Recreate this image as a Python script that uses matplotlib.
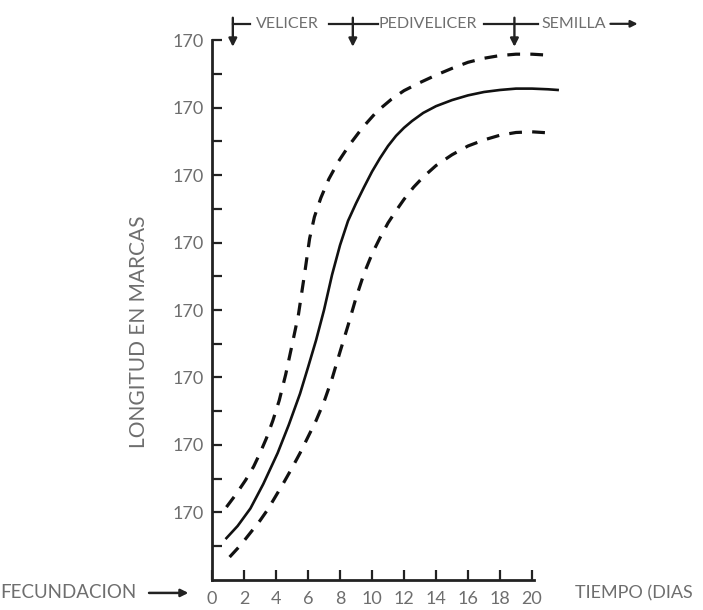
import numpy as np
import matplotlib.pyplot as plt
from matplotlib.ticker import FixedLocator

plt.rcParams['font.family'] = ['Lato', 'DejaVu Sans']

# mean growth curve (days, length units)
dias_media = [0.9, 1.6, 2.4, 3.2, 4.1, 4.8, 5.5, 6.0, 6.5, 7.0, 7.5, 8.0, 8.5, 9.0, 9.5,
              10.0, 10.5, 11.0, 11.5, 12.0, 12.5, 13.2, 14.0, 15.0, 16.0, 17.0, 18.0,
              19.0, 20.0, 21.0, 21.6]
long_media = [0.62, 0.80, 1.06, 1.42, 1.88, 2.30, 2.76, 3.15, 3.55, 4.00, 4.52, 4.96, 5.32,
              5.58, 5.82, 6.05, 6.25, 6.43, 6.58, 6.70, 6.80, 6.92, 7.02, 7.11, 7.18, 7.23,
              7.26, 7.28, 7.28, 7.27, 7.26]

# upper limit
dias_sup = [0.9, 1.5, 2.1, 2.6, 3.0, 3.4, 3.8, 4.2, 4.6, 5.0, 5.4, 5.8, 6.1, 6.4, 6.8,
            7.3, 7.9, 8.6, 9.4, 10.3, 11.2, 12.0, 13.0, 14.0, 15.0, 16.0, 17.0, 18.0,
            19.0, 20.0, 20.7]
long_sup = [1.08, 1.27, 1.48, 1.68, 1.88, 2.10, 2.36, 2.66, 3.04, 3.48, 3.93, 4.56, 5.06,
            5.38, 5.66, 5.94, 6.20, 6.45, 6.70, 6.94, 7.12, 7.25, 7.37, 7.48, 7.58, 7.67,
            7.73, 7.77, 7.79, 7.79, 7.78]

# lower limit
dias_inf = [1.1, 1.8, 2.4, 3.0, 3.5, 4.0, 4.5, 5.0, 5.5, 6.0, 6.5, 7.0, 7.5, 8.0, 8.5,
            9.0, 9.5, 10.0, 10.5, 11.0, 11.5, 12.0, 12.6, 13.2, 14.0, 15.0, 16.0, 17.0,
            18.0, 19.0, 20.0, 21.3]
long_inf = [0.34, 0.52, 0.70, 0.88, 1.05, 1.25, 1.45, 1.66, 1.88, 2.12, 2.36, 2.64, 2.98,
            3.38, 3.77, 4.18, 4.54, 4.83, 5.07, 5.29, 5.47, 5.64, 5.82, 5.97, 6.14, 6.30,
            6.43, 6.52, 6.59, 6.63, 6.64, 6.62]

x_ticks = [0, 2, 4, 6, 8, 10, 12, 14, 16, 18, 20]
y_ticks = [1, 2, 3, 4, 5, 6, 7, 8]
y_labels = ['170'] * 8

etapas = ['VELICER', 'PEDIVELICER', 'SEMILLA']
etapas_x = [4.7, 13.5, 20.6]
cambios = [1.3, 8.8, 18.9]

gris = '#6e6e6e'
negro = '#222222'

fig = plt.figure(figsize=(7.03, 6.10), dpi=100)
ax = fig.add_axes([0.3016, 0.0492, 0.5007, 0.8852])

ax.plot(dias_media, long_media, color='#111111', lw=1.9)
ax.plot(dias_sup, long_sup, color='#111111', lw=2.3, dashes=(4, 3.2))
ax.plot(dias_inf, long_inf, color='#111111', lw=2.3, dashes=(4, 3.2))

ax.set_xlim(0, 22)
ax.set_ylim(0, 8)
for s in ['top', 'right']:
    ax.spines[s].set_visible(False)
ax.spines['bottom'].set_bounds(0, 20.1)
for s in ['left', 'bottom']:
    ax.spines[s].set_linewidth(2)
    ax.spines[s].set_color(negro)

ax.xaxis.set_major_locator(FixedLocator(x_ticks))
ax.set_xticklabels([str(t) for t in x_ticks])
ax.yaxis.set_major_locator(FixedLocator(y_ticks))
ax.set_yticklabels(y_labels)
ax.yaxis.set_minor_locator(FixedLocator([v - 0.5 for v in y_ticks]))
ax.tick_params(axis='both', which='both', direction='in', length=7, width=1.6,
               color=negro, labelcolor=gris, labelsize=13)
ax.tick_params(axis='x', pad=8)
ax.tick_params(axis='y', pad=6)

ax.set_ylabel('LONGITUD EN MARCAS', color=gris, fontsize=15)
ax.yaxis.set_label_coords(-0.18, 0.46)

# stage bar along the top
y_txt = 8.24
for xc in cambios:
    ax.annotate('', xy=(xc, 7.9), xytext=(xc, 8.33), annotation_clip=False,
                arrowprops=dict(arrowstyle='-|>', color=negro, lw=1.7,
                                mutation_scale=12, shrinkA=0, shrinkB=0))
for x0, x1 in [(1.3, 2.4), (7.3, 10.4), (17.0, 20.4)]:
    ax.plot([x0, x1], [y_txt, y_txt], color=negro, lw=1.6, clip_on=False)
for nombre, xc in zip(etapas, etapas_x):
    ax.text(xc, y_txt, nombre, color=gris, fontsize=11.5,
            ha='center' if nombre != 'SEMILLA' else 'left', va='center')
ax.annotate('', xy=(26.6, y_txt), xytext=(24.9, y_txt), annotation_clip=False,
            arrowprops=dict(arrowstyle='-|>', color=negro, lw=1.6,
                            mutation_scale=10, shrinkA=0, shrinkB=0))

# bottom captions
fig.text(0.0, 0.028, 'FECUNDACION', color=gris, fontsize=13.5, va='center')
fig.text(0.818, 0.028, 'TIEMPO (DIAS', color=gris, fontsize=13, va='center')
ax.annotate('', xy=(0.268, 0.028), xytext=(0.212, 0.028), xycoords='figure fraction',
            textcoords='figure fraction',
            arrowprops=dict(arrowstyle='-|>', color=negro, lw=1.8,
                            mutation_scale=11, shrinkA=0, shrinkB=0))

fig.savefig('out.png', dpi=100)
